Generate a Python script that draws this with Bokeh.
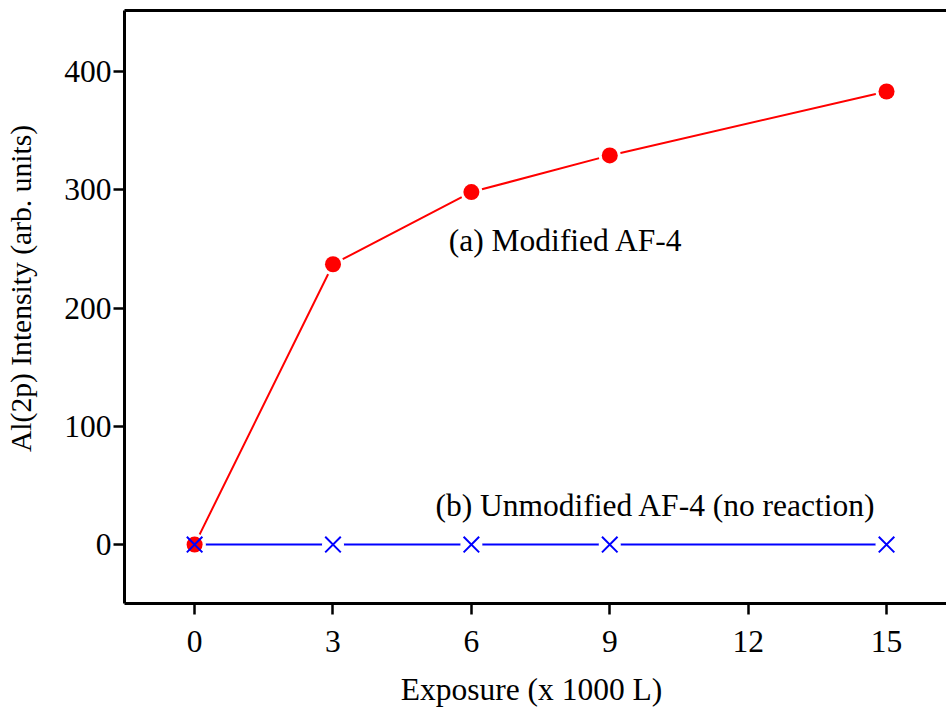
from bokeh.plotting import figure
from bokeh.models import LinearAxis, FixedTicker, Range1d, Label
from bokeh.embed import file_html
from bokeh.resources import INLINE

exposure = [0, 3, 6, 9, 15]
modified = [0, 237, 298, 329, 383]
unmodified = [0, 0, 0, 0, 0]
x_ticks = [0, 3, 6, 9, 12, 15]
y_ticks = [0, 100, 200, 300, 400]
label_a = "(a) Modified AF-4"
label_b = "(b) Unmodified AF-4 (no reaction)"
x_title = "Exposure (x  1000 L)"
y_title = "Al(2p) Intensity (arb. units)"

FONT = "Liberation Serif"
FS = "31.5px"

p = figure(width=946, height=709, output_backend="svg", toolbar_location=None,
           x_range=Range1d(-1.52, 16.3), y_range=Range1d(-49.8, 451.5),
           min_border_left=124, min_border_right=0, min_border_top=10,
           min_border_bottom=105, x_axis_location=None, y_axis_location=None)
p.outline_line_color = None
p.grid.visible = False
p.background_fill_color = "white"
p.border_fill_color = "white"

def style(ax):
    ax.axis_line_width = 3
    ax.axis_line_color = "black"
    ax.major_tick_line_width = 2.5
    ax.major_tick_line_color = "black"
    ax.major_tick_in = 0
    ax.major_tick_out = 11
    ax.minor_tick_line_color = None
    ax.major_label_text_font = FONT
    ax.major_label_text_font_size = FS
    ax.major_label_text_color = "black"
    ax.axis_label_text_font = FONT
    ax.axis_label_text_font_size = FS
    ax.axis_label_text_font_style = "normal"
    ax.axis_label_text_color = "black"

xa = LinearAxis(ticker=FixedTicker(ticks=x_ticks), axis_label=x_title)
style(xa)
xa.major_label_standoff = 16
xa.axis_label_standoff = 17
p.add_layout(xa, "below")

# leading no-break spaces shift the centred title upward, as in the reference
ya = LinearAxis(ticker=FixedTicker(ticks=y_ticks), axis_label="\u00a0" * 5 + y_title)
style(ya)
ya.axis_label_text_font_size = "29.6px"
ya.major_label_standoff = 2
ya.axis_label_standoff = 24
ya.major_label_orientation = "horizontal"
p.add_layout(ya, "left")

ta = LinearAxis(ticker=FixedTicker(ticks=[]))
ta.axis_line_width = 3
ta.major_tick_line_color = None
ta.minor_tick_line_color = None
ta.major_label_text_font_size = "0px"
ta.major_label_standoff = 0
p.add_layout(ta, "above")

p.line(exposure, unmodified, line_color="#0000ff", line_width=2)
p.line(exposure, modified, line_color="#ff0000", line_width=2)
p.scatter(exposure, unmodified, marker="circle", size=22, fill_color="white", line_color=None)
p.scatter(exposure, modified, marker="circle", size=22, fill_color="white", line_color=None)
p.scatter(exposure, modified, marker="circle", size=16, fill_color="#ff0000", line_color=None)
p.scatter(exposure, unmodified, marker="x", size=22, line_color="#0000ff", line_width=2)

p.add_layout(Label(x=5.51, y=257, text=label_a, text_font=FONT, text_font_size=FS,
                   text_baseline="middle", text_align="left", text_color="black"))
p.add_layout(Label(x=5.22, y=33, text=label_b, text_font=FONT, text_font_size=FS,
                   text_baseline="middle", text_align="left", text_color="black"))

open("out.html", "w").write(file_html(p, INLINE))
